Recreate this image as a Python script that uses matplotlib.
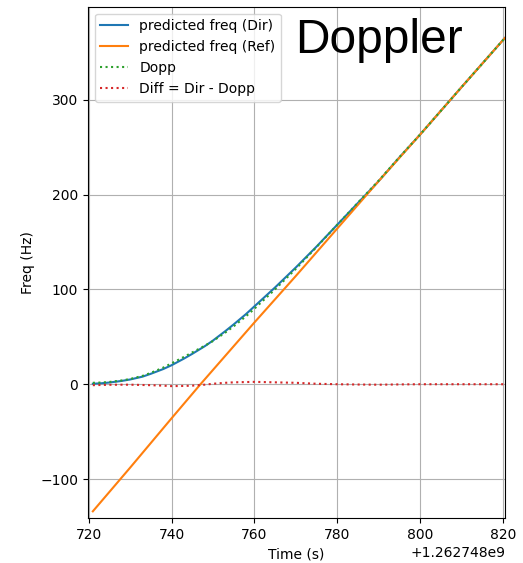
import numpy as np
import matplotlib
matplotlib.use("Agg")
import matplotlib.pyplot as plt

T0 = 1262748000.0

# time offsets (s) and values
t_dir = [721, 723, 725, 728, 730, 733, 735, 738, 740, 743, 745, 748, 750,
         753, 755, 758, 760, 765, 770, 775, 780, 785, 790, 795, 800, 810, 820.5]
f_dir = [0.5, 1.0, 1.8, 3.5, 5, 8, 11, 16, 20, 27, 32, 40, 46,
         56, 63, 74, 82, 102, 123, 145, 168, 191, 214, 239, 263, 313, 365]
diff = [-1, -0.8, -0.6, -0.5, -0.5, -0.8, -1, -1.5, -2, -1.8, -1.5, -0.5, 0.5,
        1.5, 2, 2.3, 2.5, 2, 1.5, 0.5, 0, -0.3, -0.5, -0.2, 0, 0, 0]

t_ref = [721, 730, 740, 747, 760, 770, 780, 790, 800, 810, 820.5]
f_ref = [-134, -88, -36, 0, 65, 114, 164, 214, 263, 313, 365]

t_dir = np.array(t_dir) + T0
t_ref = np.array(t_ref) + T0
f_dir = np.array(f_dir)
diff = np.array(diff)
dopp = f_dir - diff

fig = plt.figure(figsize=(5.23, 5.63), dpi=100)
ax = fig.add_axes([0.168, 0.080, 0.798, 0.908])

ax.plot(t_dir, f_dir, label="predicted freq (Dir)")
ax.plot(t_ref, f_ref, label="predicted freq (Ref)")
ax.plot(t_dir, dopp, ":", label="Dopp")
ax.plot(t_dir, diff, ":", label="Diff = Dir - Dopp")

ax.set_xlim(T0 + 719.8, T0 + 820.6)
ax.set_ylim(-141, 398)
ax.set_xlabel("Time (s)")
ax.set_ylabel("Freq (Hz)")
ax.grid(True)
ax.legend(loc="upper left")

fig.text(0.565, 0.905, "Doppler", fontsize=34.5, family="Liberation Sans")

fig.savefig("out.png", dpi=100)
